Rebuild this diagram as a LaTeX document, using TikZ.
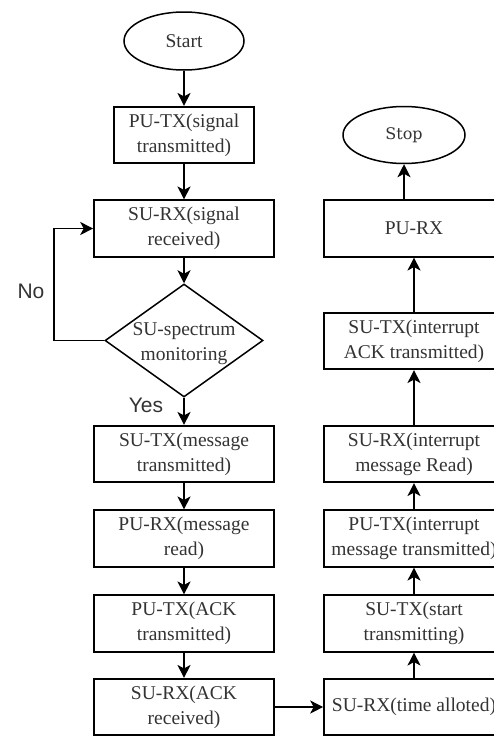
\documentclass[tikz,border=0pt]{standalone}
\usepackage{fontspec}
\setmainfont{Liberation Serif}
\newfontfamily\lsans{Liberation Sans}
\newfontfamily\dserif{DejaVu Serif}
\usetikzlibrary{shapes.geometric,arrows.meta}
\definecolor{txtc}{HTML}{333333}
\begin{document}
\begin{tikzpicture}[x=1pt,y=-1pt,
  boxtxt/.style={text=txtc, font=\fontsize{19.5}{25}\selectfont, align=center},
  flowbox/.style={boxtxt, draw=black, line width=1.6pt, rectangle, minimum width=180pt, minimum height=56.5pt, inner sep=0pt},
  term/.style={draw=black, line width=1.5pt, ellipse, inner sep=0pt},
  arr/.style={draw=black, line width=1.5pt, -{Stealth[length=13pt,width=13pt,inset=3.5pt]}},
  lbl/.style={text=txtc, font=\lsans\fontsize{21}{24}\selectfont}
]
\useasboundingbox (0,0) rectangle (494,736);

% left column
\node[term, minimum width=120pt, minimum height=58pt, boxtxt] (start) at (184,41) {Start};
\node[flowbox, minimum width=140pt] (putx1) at (184,135) {PU-TX(signal\\transmitted)};
\node[flowbox] (surx1) at (184,228.5) {SU-RX(signal\\received)};
\node[diamond, draw=black, line width=1.5pt, minimum width=158pt, minimum height=113pt, inner sep=0pt] (dec) at (184,340.5) {};
\node[boxtxt] (dectxt) at (184,344) {SU-spectrum\\monitoring};
\node[flowbox] (sutx1) at (184,454) {SU-TX(message\\transmitted)};
\node[flowbox] (purx1) at (184,538.5) {PU-RX(message\\read)};
\node[flowbox] (putx2) at (184,623.5) {PU-TX(ACK\\transmitted)};
\node[flowbox] (surx2) at (184,707) {SU-RX(ACK\\received)};

% right column
\node[term, minimum width=122pt, minimum height=57pt, text=txtc, font=\dserif\fontsize{16}{20}\selectfont] (stop) at (404,135) {Stop};
\node[flowbox] (purx2) at (414,228.5) {PU-RX};
\node[flowbox] (sutx2) at (414,341) {SU-TX(interrupt\\ACK transmitted)};
\node[flowbox] (surx3) at (414,454) {SU-RX(interrupt\\message Read)};
\node[flowbox] (putx3) at (414,538.5) {PU-TX(interrupt\\message transmitted)};
\node[flowbox] (sutx3) at (414,623.5) {SU-TX(start\\transmitting)};
\node[flowbox] (surx4) at (414,707) {SU-RX(time alloted)};

% labels
\node[lbl] (no) at (31,291) {No};
\node[lbl] (yes) at (146,405) {Yes};

% connectors left
\draw[arr] (start) -- (putx1);
\draw[arr] (putx1) -- (surx1);
\draw[arr] (surx1) -- (dec.north);
\draw[arr] (dec.south) -- (sutx1);
\draw[arr] (sutx1) -- (purx1);
\draw[arr] (purx1) -- (putx2);
\draw[arr] (putx2) -- (surx2);
\coordinate (fb) at (54,340.5);
\draw[arr] (dec.west) -- (fb) |- (surx1.west);
\draw[arr] (surx2.east) -- (surx4.west);

% connectors right
\draw[arr] (surx4) -- (sutx3);
\draw[arr] (sutx3) -- (putx3);
\draw[arr] (putx3) -- (surx3);
\draw[arr] (surx3) -- (sutx2);
\draw[arr] (sutx2) -- (purx2);
\draw[arr] (purx2.north -| stop.south) -- (stop.south);
\end{tikzpicture}
\end{document}
